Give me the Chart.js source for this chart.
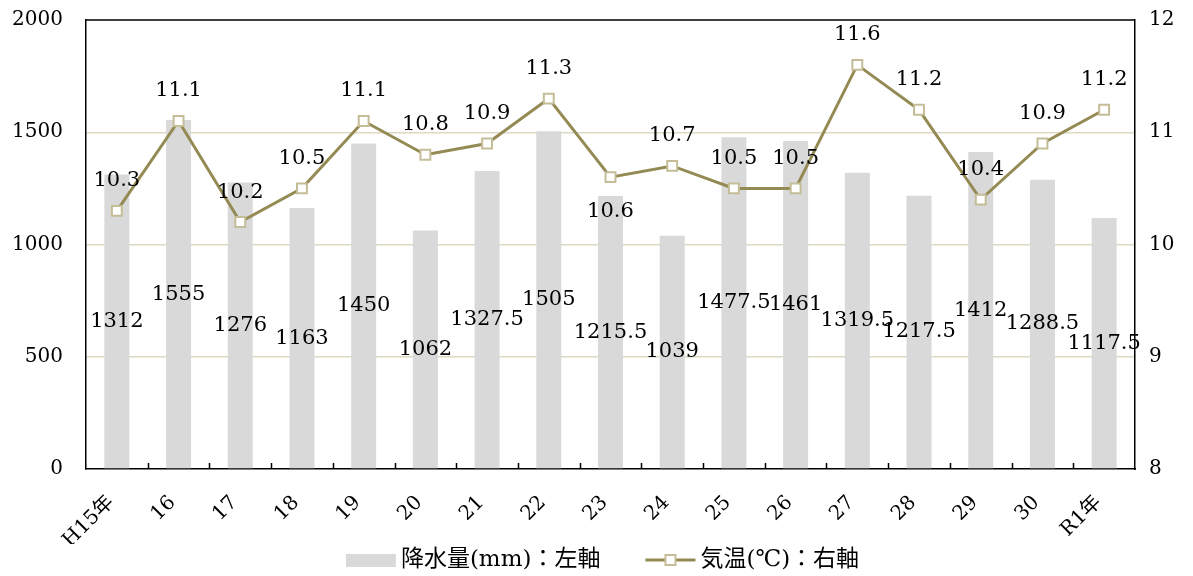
<!DOCTYPE html>
<html>
<head>
<meta charset="utf-8">
<script src="https://cdn.jsdelivr.net/npm/chart.js@4.4.1/dist/chart.umd.min.js"></script>
<style>
	html, body { margin:0; padding:0; background:#fff; }
	#wrap { width:1193px; height:576px; position:relative; }
</style>
</head>
<body>
<div id="wrap"><canvas id="grafico"></canvas></div>
<script>
var anios = ["H15年","16","17","18","19","20","21","22","23","24","25","26","27","28","29","30","R1年"];
var lluvia = [1312,1555,1276,1163,1450,1062,1327.5,1505,1215.5,1039,1477.5,1461,1319.5,1217.5,1412,1288.5,1117.5];
var temperatura = [10.3,11.1,10.2,10.5,11.1,10.8,10.9,11.3,10.6,10.7,10.5,10.5,11.6,11.2,10.4,10.9,11.2];
var ticksIzq = [0,500,1000,1500,2000];
var ticksDer = [8,9,10,11,12];
// etiquetas de temperatura que van debajo del punto
var abajo = [false,false,false,false,false,false,false,false,true,false,false,false,false,false,false,false,false];
var leyenda = ["降水量(mm)：左軸","気温(℃)：右軸"];

var fuente = '"DejaVu Serif", "Liberation Serif", "Noto Sans CJK JP", serif';
var colBarra = "#d9d9d9", colLinea = "#948a54", colPunto = "#c4bd97", colGrid = "#ddd9c3";

function $each(lst, fn){ for(var i = 0; i < lst.length; i++) fn(i, lst[i]); }

var etiquetas = {
	id:"etiquetas",
	afterDatasetsDraw:function(chart){
		var ctx = chart.ctx;
		ctx.save();
		ctx.font = "21px " + fuente;
		ctx.fillStyle = "#000";
		ctx.textAlign = "center";
		ctx.textBaseline = "middle";
		$each(chart.getDatasetMeta(0).data, function(k, bar){
			ctx.fillText(String(lluvia[k]), bar.x, (bar.y + bar.base) / 2);
		});
		$each(chart.getDatasetMeta(1).data, function(k, pt){
			ctx.fillText(temperatura[k].toFixed(1), pt.x, abajo[k] ? pt.y + 34 : pt.y - 30);
		});
		ctx.restore();
	},
	afterDraw:function(chart){
		var ctx = chart.ctx, a = chart.chartArea;
		ctx.save();
		ctx.strokeStyle = "#000";
		ctx.lineWidth = 1.5;
		ctx.beginPath();
		ctx.moveTo(a.left, a.top); ctx.lineTo(a.right, a.top);
		// marcas hacia adentro entre categorias
		var paso = (a.right - a.left) / anios.length;
		for(var i = 1; i < anios.length; i++){
			var x = Math.round(a.left + i * paso) + 0.5;
			ctx.moveTo(x, a.bottom); ctx.lineTo(x, a.bottom - 6);
		}
		ctx.stroke();

		// leyenda abajo, centrada
		ctx.font = "23px " + fuente;
		ctx.textBaseline = "middle";
		ctx.textAlign = "left";
		var w1 = ctx.measureText(leyenda[0]).width, w2 = ctx.measureText(leyenda[1]).width;
		var total = 50 + 5 + w1 + 45 + 50 + 5 + w2;
		var x0 = chart.width / 2 - total / 2 + 6, y0 = chart.height - 16;
		ctx.fillStyle = colBarra;
		ctx.fillRect(x0, y0 - 6, 50, 13);
		ctx.fillStyle = "#000";
		ctx.fillText(leyenda[0], x0 + 55, y0);
		var x1 = x0 + 55 + w1 + 45;
		ctx.strokeStyle = colLinea; ctx.lineWidth = 3;
		ctx.beginPath(); ctx.moveTo(x1, y0); ctx.lineTo(x1 + 50, y0); ctx.stroke();
		ctx.fillStyle = "#fff"; ctx.fillRect(x1 + 20, y0 - 5, 10, 10);
		ctx.strokeStyle = colPunto; ctx.lineWidth = 2;
		ctx.strokeRect(x1 + 20, y0 - 5, 10, 10);
		ctx.fillStyle = "#000";
		ctx.fillText(leyenda[1], x1 + 55, y0);
		ctx.restore();
	}
};

new Chart(document.getElementById("grafico"),{
	type:"bar",
	data:{
		labels:anios,
		datasets:[
			{
				label:leyenda[0],
				data:lluvia,
				backgroundColor:colBarra,
				yAxisID:"y",
				barPercentage:0.81,
				categoryPercentage:0.5,
				order:2
			},
			{
				type:"line",
				label:leyenda[1],
				data:temperatura,
				yAxisID:"y1",
				borderColor:colLinea,
				borderWidth:3,
				pointStyle:"rect",
				pointRadius:7,
				pointBackgroundColor:"#fff",
				pointBorderColor:colPunto,
				pointBorderWidth:2,
				tension:0,
				order:1
			}
		]
	},
	options:{
		responsive:true,
		maintainAspectRatio:false,
		animation:false,
		layout:{ padding:{ top:20, left:0, right:0, bottom:32 } },
		plugins:{
			tooltip:{ enabled:false },
			legend:{ display:false }
		},
		scales:{
			x:{
				grid:{ display:false },
				border:{ color:"#000", width:1.5 },
				afterFit:function(s){ s.height = 75; },
				ticks:{
					color:"#000", font:{ family:fuente, size:20 },
					minRotation:45, maxRotation:45, padding:14, labelOffset:-6, autoSkip:false
				}
			},
			y:{
				position:"left",
				min:0, max:2000,
				afterBuildTicks:function(s){ s.ticks = ticksIzq.map(function(v){ return {value:v}; }); },
				afterFit:function(s){ s.width = 86; s.paddingTop = 0; s.paddingBottom = 0; },
				grid:{
					drawTicks:false,
					lineWidth:1.5,
					color:function(c){ return (c.tick.value == 0 || c.tick.value == 2000) ? "rgba(0,0,0,0)" : colGrid; }
				},
				border:{ color:"#000", width:1.5 },
				ticks:{ color:"#000", font:{ family:fuente, size:20 }, padding:23, callback:function(v){ return String(v); } }
			},
			y1:{
				position:"right",
				min:8, max:12,
				afterBuildTicks:function(s){ s.ticks = ticksDer.map(function(v){ return {value:v}; }); },
				afterFit:function(s){ s.width = 58; s.paddingTop = 0; s.paddingBottom = 0; },
				grid:{ display:false, drawTicks:false },
				border:{ color:"#000", width:1.5 },
				ticks:{ color:"#000", font:{ family:fuente, size:20 }, padding:14, callback:function(v){ return String(v); } }
			}
		}
	},
	plugins:[etiquetas]
});
</script>
</body>
</html>
